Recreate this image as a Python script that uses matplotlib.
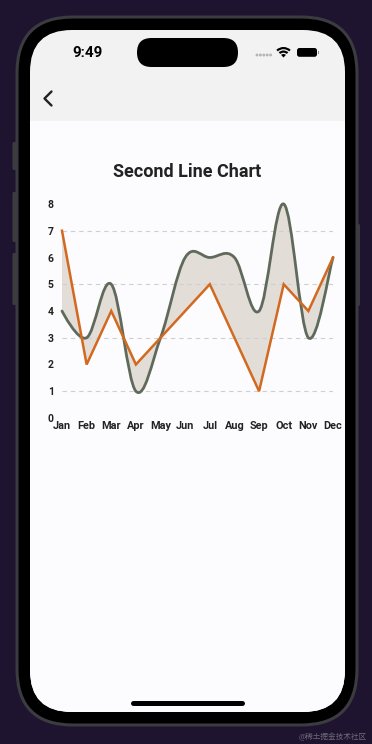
import matplotlib
matplotlib.use("Agg")
import matplotlib.pyplot as plt
from matplotlib.patches import FancyBboxPatch, Rectangle, PathPatch, Wedge
from matplotlib.path import Path
import numpy as np

plt.rcParams['font.family'] = ['Roboto', 'DejaVu Sans']

# data
months = ["Jan", "Feb", "Mar", "Apr", "May", "Jun",
          "Jul", "Aug", "Sep", "Oct", "Nov", "Dec"]
curved_vals = [4, 3, 5, 1, 3, 6, 6, 6, 4, 8, 3, 6]
straight_vals = [7, 2, 4, 2, 3, 4, 5, 3, 1, 5, 4, 6]
y_ticks = [0, 1, 2, 3, 4, 5, 6, 7, 8]
grid_vals = [1, 3, 5, 7]

# colours
bg_purple = "#1e1430"
rim = "#3c3b40"
nav_grey = "#f2f2f2"
screen_white = "#fcfbfd"
curve_col = "#5f6a5b"
line_col = "#d2691e"
fill_col = "#e3ddd8"
grid_col = "#cfcfcf"
text_col = "#222222"


def smooth_path(xs, ys, smoothness=0.35):
    """cubic path like fl_chart's isCurved line"""
    pts = np.column_stack([xs, ys]).astype(float)
    n = len(pts)
    verts = [pts[0]]
    codes = [Path.MOVETO]
    temp = np.zeros(2)
    for i in range(1, n):
        cur = pts[i]
        prev = pts[i - 1]
        nxt = pts[i + 1] if i + 1 < n else pts[i]
        cp1 = prev + temp
        temp = (nxt - prev) / 2 * smoothness
        cp2 = cur - temp
        verts += [cp1, cp2, cur]
        codes += [Path.CURVE4] * 3
    return verts, codes


fig = plt.figure(figsize=(3.72, 7.44), dpi=100)
fig.patch.set_facecolor(bg_purple)

# phone mockup drawn in pixel coordinates
bg = fig.add_axes([0, 0, 1, 1])
bg.set_xlim(0, 372)
bg.set_ylim(744, 0)
bg.axis("off")

# side buttons
for y0, y1 in [(142, 170), (192, 242), (253, 305)]:
    bg.add_patch(FancyBboxPatch((12.5, y0), 4, y1 - y0, boxstyle="round,pad=0,rounding_size=1.5",
                                fc=rim, ec="none"))
bg.add_patch(FancyBboxPatch((356, 224), 4, 82, boxstyle="round,pad=0,rounding_size=1.5",
                            fc=rim, ec="none"))

# body
bg.add_patch(FancyBboxPatch((17, 17), 340, 708, boxstyle="round,pad=0,rounding_size=56",
                            fc="black", ec=rim, lw=2.2))
screen = FancyBboxPatch((30, 30), 315, 682, boxstyle="round,pad=0,rounding_size=42",
                        fc=nav_grey, ec="none")
bg.add_patch(screen)
content = Rectangle((30, 121), 315, 600, fc=screen_white, ec="none")
bg.add_patch(content)
content.set_clip_path(screen)

# dynamic island
bg.add_patch(FancyBboxPatch((137, 38), 101, 29, boxstyle="round,pad=0,rounding_size=14.5",
                            fc="black", ec="none"))

# status bar
bg.text(87.5, 52.8, "9:49", ha="center", va="center", fontsize=11, fontweight="bold", color="black")
for k in range(5):
    bg.add_patch(plt.Circle((257 + k * 3.4, 55), 0.75, color="#b5b5b5"))
for r in [10.5, 7.0, 3.5]:
    bg.add_patch(Wedge((283.5, 57.5), r, 227, 313, width=2.2 if r > 4 else 3.5,
                       fc="black", ec="none"))
bg.add_patch(FancyBboxPatch((297, 48), 20, 8.8, boxstyle="round,pad=0,rounding_size=2.5",
                            fc="black", ec="none"))
bg.add_patch(Rectangle((317.6, 50.8), 1.3, 3.4, fc="#8a8a8a", ec="none"))

# back chevron
bg.plot([51.5, 44.5, 51.5], [91.5, 98.5, 105.5], color="#222222", lw=1.7,
        solid_capstyle="round", solid_joinstyle="round")

# home indicator
bg.plot([133, 242], [703, 703], color="black", lw=3.6, solid_capstyle="round")

# title
bg.text(187.5, 172, "Second Line Chart", ha="center", va="center", fontsize=13,
        fontweight="bold", color=text_col)

# watermark
bg.text(367, 737, "@稀土掘金技术社区", ha="right", va="center", fontsize=5.5, color="#6f6a7a",
        family=["Noto Sans CJK SC", "DejaVu Sans"])

# chart area
ax = fig.add_axes([62 / 372, 1 - 418 / 744, 271 / 372, 214 / 744])
ax.set_facecolor("none")
x = np.arange(len(months))

verts, codes = smooth_path(x, curved_vals)
# area between the two series
fill_verts = list(verts) + [np.array([xi, yi]) for xi, yi in zip(x[::-1], straight_vals[::-1])]
fill_verts.append(verts[0])
fill_codes = list(codes) + [Path.LINETO] * len(x) + [Path.CLOSEPOLY]
ax.add_patch(PathPatch(Path(fill_verts, fill_codes), fc=fill_col, ec="none", zorder=1))

for g in grid_vals:
    ax.axhline(g, color=grid_col, lw=0.8, dashes=(4, 3.5), zorder=2)

ax.add_patch(PathPatch(Path(verts, codes), fc="none", ec=curve_col, lw=2.0, zorder=3,
                       clip_on=False, capstyle="round", joinstyle="round"))
ax.plot(x, straight_vals, color=line_col, lw=1.8, zorder=4, clip_on=False,
        solid_joinstyle="miter")

ax.set_xlim(0, len(months) - 1)
ax.set_ylim(0, 8)
ax.set_xticks(x)
ax.set_xticklabels(months, fontsize=7.8, fontweight="bold", color=text_col)
ax.set_yticks(y_ticks)
ax.set_yticklabels([str(v) for v in y_ticks], fontsize=7.5, fontweight="bold", color=text_col)
ax.tick_params(length=0)
ax.tick_params(axis="y", pad=6)
ax.tick_params(axis="x", pad=2.5)
for s in ax.spines.values():
    s.set_visible(False)

fig.savefig("out.png", dpi=100, facecolor=fig.get_facecolor())
